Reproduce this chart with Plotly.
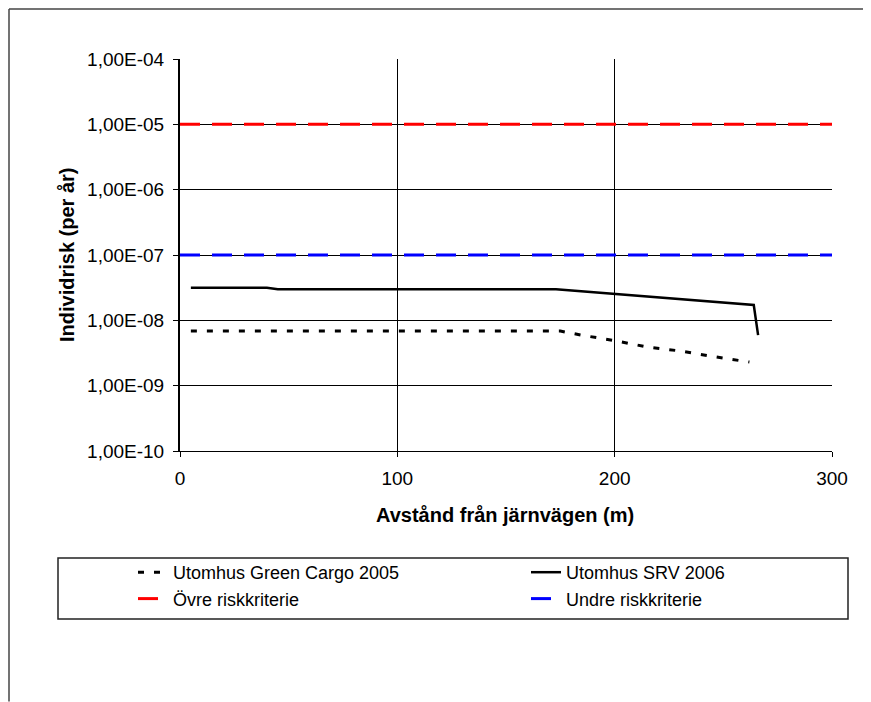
import plotly.graph_objects as go

# ---- data ----
gc_x = [5, 175, 185, 200, 215, 230, 245, 262]
gc_y = [6.85e-9, 6.85e-9, 5.9e-9, 4.9e-9, 3.9e-9, 3.4e-9, 2.8e-9, 2.3e-9]

srv_x = [5, 40, 45, 173, 264, 266]
srv_y = [3.15e-8, 3.15e-8, 3.0e-8, 3.0e-8, 1.72e-8, 5.95e-9]

ovre_x = [0, 300]
ovre_y = [1e-5, 1e-5]
undre_x = [0, 300]
undre_y = [1e-7, 1e-7]

names = ["Utomhus Green Cargo 2005", "Utomhus SRV 2006", "Övre riskkriterie", "Undre riskkriterie"]

y_tickvals = [1e-10, 1e-9, 1e-8, 1e-7, 1e-6, 1e-5, 1e-4]
y_ticktext = ["1,00E-10", "1,00E-09", "1,00E-08", "1,00E-07", "1,00E-06", "1,00E-05", "1,00E-04"]
x_tickvals = [0, 100, 200, 300]

x_title = "<b>Avstånd från järnvägen (m)</b>"
y_title = "<b>Individrisk (per år)</b>"

OFF = 8  # page body margin
W, H = 871 - OFF, 702 - OFF
L, R, T, B = 172, 39, 51, 251
PW, PH = W - L - R, H - T - B


def px(sx):
    return (sx - OFF - L) / PW


def py(sy):
    return (H - B - (sy - OFF)) / PH


FONT = "Liberation Sans, Arial, sans-serif"

fig = go.Figure()
fig.add_trace(go.Scatter(x=gc_x, y=gc_y, mode="lines", name=names[0],
                         line=dict(color="black", width=3, dash="6px,10px"),
                         legend="legend", legendgroup="a"))
fig.add_trace(go.Scatter(x=srv_x, y=srv_y, mode="lines", name=names[1],
                         line=dict(color="black", width=2.5),
                         legend="legend2", legendgroup="b"))
fig.add_trace(go.Scatter(x=ovre_x, y=ovre_y, mode="lines", name=names[2],
                         line=dict(color="#ff0000", width=3, dash="20px,12px"),
                         legend="legend", legendgroup="c"))
fig.add_trace(go.Scatter(x=undre_x, y=undre_y, mode="lines", name=names[3],
                         line=dict(color="#0000ff", width=3, dash="20px,12px"),
                         legend="legend2", legendgroup="d"))

legend_common = dict(
    font=dict(family=FONT, size=18, color="black"),
    bgcolor="rgba(0,0,0,0)", borderwidth=0,
    xref="container", yref="container",
    xanchor="left", yanchor="top", orientation="v",
    tracegroupgap=9, traceorder="normal",
)

fig.update_layout(
    width=W, height=H,
    margin=dict(l=L, r=R, t=T, b=B, autoexpand=False),
    paper_bgcolor="white", plot_bgcolor="white",
    font=dict(family=FONT, size=19, color="black"),
    showlegend=True,
    legend=dict(x=(133 - OFF) / W, y=1 - (554 - OFF) / H, **legend_common),
    legend2=dict(x=(526 - OFF) / W, y=1 - (554 - OFF) / H, **legend_common),
    xaxis=dict(
        range=[0, 300], tickvals=x_tickvals, automargin=False,
        showgrid=True, gridcolor="black", gridwidth=1,
        showline=True, linecolor="black", linewidth=1,
        ticks="outside", ticklen=5, tickcolor="black",
        tickfont=dict(size=19), ticklabelstandoff=5, zeroline=False,
    ),
    yaxis=dict(
        type="log", range=[-10, -4], automargin=False,
        tickvals=y_tickvals, ticktext=y_ticktext,
        showgrid=True, gridcolor="black", gridwidth=1,
        showline=True, linecolor="black", linewidth=2,
        ticks="outside", ticklen=5, tickcolor="black",
        tickfont=dict(size=19), ticklabelstandoff=5, zeroline=False,
    ),
    annotations=[
        dict(text=x_title, xref="paper", yref="paper",
             x=px(505), y=py(515), xanchor="center", yanchor="middle",
             showarrow=False, font=dict(family=FONT, size=20, color="black")),
        dict(text=y_title, xref="paper", yref="paper",
             x=px(67), y=py(255), xanchor="center", yanchor="middle",
             textangle=-90,
             showarrow=False, font=dict(family=FONT, size=20, color="black")),
    ],
    shapes=[
        dict(type="rect", xref="paper", yref="paper",
             x0=px(58), x1=px(848), y0=py(558), y1=py(619),
             line=dict(color="#222222", width=1.5), fillcolor="rgba(0,0,0,0)", layer="below"),
        dict(type="line", xref="paper", yref="paper",
             x0=px(9), x1=px(870.5), y0=py(9), y1=py(9),
             line=dict(color="#444444", width=1.5)),
        dict(type="line", xref="paper", yref="paper",
             x0=px(9), x1=px(9), y0=py(9), y1=py(701.5),
             line=dict(color="#444444", width=1.5)),
    ],
)

fig.write_html("out.html")
